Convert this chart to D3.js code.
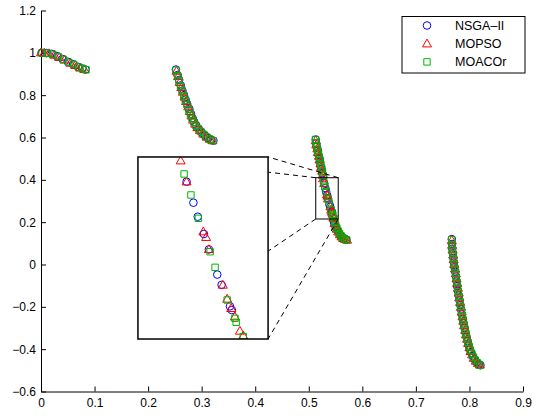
<!DOCTYPE html>
<html>
<head>
<meta charset="utf-8">
<script src="https://cdn.jsdelivr.net/npm/d3@7"></script>
<style>
  html, body { margin: 0; padding: 0; background: #fff; }
  svg { display: block; font-family: "Liberation Sans", Arial, Helvetica, sans-serif; }
</style>
</head>
<body>
<svg id="chart" width="537" height="418"></svg>
<script>
// Pareto front approximations (f1, f2) found by each optimiser
const nsga2Points = [
  [0.001,1.000],[0.010,0.999],[0.020,0.995],[0.030,0.984],[0.040,0.971],[0.050,0.958],[0.060,0.946],[0.069,0.934],[0.077,0.926],[0.083,0.921],
  [0.252,0.921],[0.255,0.895],[0.258,0.872],[0.261,0.846],[0.264,0.822],[0.267,0.800],[0.270,0.779],[0.273,0.758],[0.277,0.735],[0.280,0.712],
  [0.283,0.692],[0.286,0.674],[0.290,0.656],[0.295,0.638],[0.300,0.624],[0.306,0.610],[0.312,0.597],[0.318,0.589],[0.322,0.585],
  [0.513,0.590],[0.514,0.572],[0.515,0.556],[0.517,0.538],[0.518,0.520],[0.520,0.502],[0.521,0.485],[0.522,0.468],[0.524,0.450],[0.525,0.432],
  [0.527,0.418],[0.5287,0.3835],[0.5309,0.361],[0.5323,0.346],[0.5343,0.3275],[0.5359,0.311],[0.5386,0.284],[0.5400,0.273],[0.5427,0.250],
  [0.5433,0.246],[0.5468,0.203],[0.5485,0.189],[0.5505,0.177],[0.553,0.163],[0.556,0.150],[0.5585,0.139],[0.5615,0.130],[0.565,0.122],[0.570,0.117],
  [0.767,0.120],[0.7675,0.097],[0.768,0.075],[0.769,0.053],[0.770,0.031],[0.771,0.009],[0.772,-0.013],[0.7735,-0.035],[0.775,-0.057],[0.776,-0.080],
  [0.777,-0.102],[0.7785,-0.125],[0.780,-0.147],[0.7815,-0.170],[0.783,-0.192],[0.7845,-0.213],[0.786,-0.236],[0.7875,-0.257],[0.789,-0.278],
  [0.791,-0.300],[0.7925,-0.321],[0.7945,-0.342],[0.7965,-0.362],[0.7985,-0.382],[0.801,-0.401],[0.8035,-0.418],[0.8065,-0.434],[0.810,-0.449],
  [0.814,-0.462],[0.818,-0.472],[0.8205,-0.476]
];

const mopsoPoints = [
  [0.000,1.001],[0.006,1.000],[0.015,0.997],[0.025,0.990],[0.034,0.979],[0.044,0.967],[0.055,0.952],[0.064,0.941],[0.073,0.929],[0.081,0.922],
  [0.253,0.914],[0.256,0.889],[0.259,0.861],[0.262,0.837],[0.265,0.815],[0.268,0.792],[0.271,0.771],[0.275,0.746],[0.278,0.724],[0.281,0.703],
  [0.284,0.683],[0.288,0.664],[0.292,0.648],[0.297,0.633],[0.303,0.617],[0.309,0.603],[0.315,0.593],[0.320,0.586],
  [0.513,0.586],[0.514,0.566],[0.516,0.547],[0.517,0.530],[0.519,0.512],[0.520,0.495],[0.522,0.476],[0.523,0.460],[0.525,0.442],[0.526,0.424],
  [0.5268,0.406],[0.5287,0.3835],[0.5341,0.330],[0.535,0.324],[0.5359,0.311],[0.5404,0.2729],[0.5418,0.2579],[0.5431,0.2479],[0.5443,0.2389],
  [0.5459,0.2236],[0.547,0.2186],[0.548,0.195],[0.5505,0.180],[0.552,0.168],[0.555,0.155],[0.558,0.142],[0.561,0.132],[0.564,0.124],[0.568,0.119],[0.5715,0.116],
  [0.767,0.114],[0.7675,0.092],[0.7685,0.070],[0.7695,0.046],[0.7705,0.024],[0.7715,0.002],[0.773,-0.020],[0.7745,-0.043],[0.776,-0.066],[0.777,-0.088],
  [0.7785,-0.111],[0.780,-0.134],[0.781,-0.156],[0.7825,-0.178],[0.784,-0.201],[0.7855,-0.224],[0.787,-0.246],[0.7885,-0.267],[0.790,-0.288],
  [0.792,-0.310],[0.7935,-0.331],[0.7955,-0.352],[0.7975,-0.372],[0.800,-0.392],[0.802,-0.410],[0.805,-0.426],[0.808,-0.442],[0.812,-0.456],
  [0.816,-0.467],[0.8195,-0.474]
];

const moacorPoints = [
  [0.002,0.999],[0.012,0.998],[0.022,0.993],[0.032,0.982],[0.042,0.969],[0.052,0.955],[0.061,0.945],[0.070,0.933],[0.078,0.925],[0.084,0.920],
  [0.252,0.918],[0.255,0.892],[0.2575,0.868],[0.2605,0.843],[0.2635,0.820],[0.2665,0.797],[0.2695,0.776],[0.2725,0.755],[0.276,0.732],[0.279,0.710],
  [0.282,0.690],[0.2855,0.672],[0.289,0.657],[0.294,0.641],[0.2985,0.628],[0.304,0.614],[0.3095,0.602],[0.3155,0.592],[0.321,0.585],
  [0.5125,0.591],[0.5135,0.575],[0.515,0.558],[0.5165,0.541],[0.518,0.524],[0.5195,0.507],[0.521,0.490],[0.5225,0.472],[0.524,0.455],[0.5255,0.437],
  [0.5265,0.420],[0.5279,0.3918],[0.5301,0.3693],[0.5325,0.3443],[0.5363,0.3085],[0.5379,0.2918],[0.5418,0.2568],[0.5443,0.2372],[0.5447,0.2329],
  [0.547,0.2175],[0.5485,0.198],[0.5505,0.184],[0.5525,0.171],[0.555,0.158],[0.5575,0.146],[0.5605,0.135],[0.5635,0.127],[0.567,0.120],[0.571,0.116],
  [0.7668,0.117],[0.7673,0.093],[0.768,0.072],[0.769,0.050],[0.770,0.028],[0.7712,0.005],[0.7725,-0.017],[0.774,-0.039],[0.7752,-0.061],[0.7765,-0.084],
  [0.778,-0.107],[0.7792,-0.129],[0.7805,-0.151],[0.782,-0.174],[0.7835,-0.197],[0.785,-0.219],[0.7865,-0.241],[0.788,-0.262],[0.7897,-0.284],
  [0.7915,-0.305],[0.7932,-0.326],[0.795,-0.347],[0.797,-0.367],[0.7993,-0.387],[0.8018,-0.405],[0.8045,-0.422],[0.8075,-0.438],[0.811,-0.452],
  [0.815,-0.465],[0.8195,-0.476]
];

const seriesNames = ["NSGA\u2013II", "MOPSO", "MOACOr"];

const xTicks = [0, 0.1, 0.2, 0.3, 0.4, 0.5, 0.6, 0.7, 0.8, 0.9];
const xTickLabels = ["0", "0.1", "0.2", "0.3", "0.4", "0.5", "0.6", "0.7", "0.8", "0.9"];
const yTicks = [-0.6, -0.4, -0.2, 0, 0.2, 0.4, 0.6, 0.8, 1, 1.2];
const yTickLabels = ["\u22120.6", "\u22120.4", "\u22120.2", "0", "0.2", "0.4", "0.6", "0.8", "1", "1.2"];

// magnified window (data units) and where its enlarged copy sits (data units of the main axes)
const zoomXDomain = [0.513, 0.555];
const zoomYDomain = [0.215, 0.41];
const insetXSpan = [0.181, 0.424];
const insetYSpan = [-0.352, 0.508];

// ---------------------------------------------------------------
const svg = d3.select("#chart");
const x = d3.scaleLinear().domain([0, 0.9]).range([41, 523]);
const y = d3.scaleLinear().domain([-0.6, 1.2]).range([391.5, 10.5]);

const styles = [
  { data: nsga2Points,  shape: "circle",   color: "#0000ff" },
  { data: mopsoPoints,  shape: "triangle", color: "#ff0000" },
  { data: moacorPoints, shape: "square",   color: "#00b400" }
];

function markerPath(shape) {
  if (shape === "circle") {
    const r = 3.8;
    return `M${-r},0A${r},${r} 0 1,0 ${r},0A${r},${r} 0 1,0 ${-r},0Z`;
  }
  if (shape === "triangle") {
    return "M0,-4.6L4.5,3.2L-4.5,3.2Z";
  }
  const h = 3.2;
  return `M${-h},${-h}H${h}V${h}H${-h}Z`;
}

function drawSeries(g, sx, sy) {
  styles.forEach(s => {
    g.append("g")
      .selectAll("path")
      .data(s.data)
      .join("path")
      .attr("d", markerPath(s.shape))
      .attr("transform", d => `translate(${sx(d[0])},${sy(d[1])})`)
      .attr("fill", "none")
      .attr("stroke", s.color)
      .attr("stroke-width", 1);
  });
}

// axes (ticks point inward)
const xAxis = d3.axisBottom(x)
  .tickValues(xTicks)
  .tickFormat((d, i) => xTickLabels[i])
  .tickSizeInner(-5).tickSizeOuter(0).tickPadding(7);
const yAxis = d3.axisLeft(y)
  .tickValues(yTicks)
  .tickFormat((d, i) => yTickLabels[i])
  .tickSizeInner(-5).tickSizeOuter(0).tickPadding(5);

const gx = svg.append("g").attr("transform", `translate(0,${y(-0.6)})`).call(xAxis);
const gy = svg.append("g").attr("transform", `translate(${x(0)},0)`).call(yAxis);
[gx, gy].forEach(g => {
  g.selectAll("text").attr("font-size", 12).attr("font-family", "Liberation Sans, Arial, sans-serif").attr("fill", "#000");
  g.selectAll("line,path").attr("stroke", "#000");
});

// main scatter
drawSeries(svg.append("g"), x, y);

// magnified window outline
const zx0 = x(zoomXDomain[0]), zx1 = x(zoomXDomain[1]);
const zy0 = y(zoomYDomain[1]), zy1 = y(zoomYDomain[0]);
const ix0 = x(insetXSpan[0]), ix1 = x(insetXSpan[1]);
const iy0 = y(insetYSpan[1]), iy1 = y(insetYSpan[0]);

// connector lines between matching corners
const corners = [
  [[zx0, zy0], [ix0, iy0]],
  [[zx1, zy0], [ix1, iy0]],
  [[zx0, zy1], [ix0, iy1]],
  [[zx1, zy1], [ix1, iy1]]
];
svg.append("g").selectAll("line").data(corners).join("line")
  .attr("x1", d => d[0][0]).attr("y1", d => d[0][1])
  .attr("x2", d => d[1][0]).attr("y2", d => d[1][1])
  .attr("stroke", "#000").attr("stroke-width", 1).attr("stroke-dasharray", "5,4");

svg.append("rect")
  .attr("x", zx0).attr("y", zy0).attr("width", zx1 - zx0).attr("height", zy1 - zy0)
  .attr("fill", "none").attr("stroke", "#000").attr("stroke-width", 1);

// enlarged copy
const ix = d3.scaleLinear().domain(zoomXDomain).range([ix0, ix1]);
const iy = d3.scaleLinear().domain(zoomYDomain).range([iy1, iy0]);
svg.append("clipPath").attr("id", "insetClip")
  .append("rect").attr("x", ix0).attr("y", iy0).attr("width", ix1 - ix0).attr("height", iy1 - iy0);
svg.append("rect")
  .attr("x", ix0).attr("y", iy0).attr("width", ix1 - ix0).attr("height", iy1 - iy0)
  .attr("fill", "#fff");
drawSeries(svg.append("g").attr("clip-path", "url(#insetClip)"), ix, iy);
svg.append("rect")
  .attr("x", ix0).attr("y", iy0).attr("width", ix1 - ix0).attr("height", iy1 - iy0)
  .attr("fill", "none").attr("stroke", "#000").attr("stroke-width", 1.5);

// legend
const lg = svg.append("g");
lg.append("rect").attr("x", 402).attr("y", 16.5).attr("width", 123).attr("height", 56.5)
  .attr("fill", "#fff").attr("stroke", "#000").attr("stroke-width", 1);
styles.forEach((s, i) => {
  const cy = 25.5 + i * 18.2;
  lg.append("path").attr("d", markerPath(s.shape))
    .attr("transform", `translate(427,${cy})`)
    .attr("fill", "none").attr("stroke", s.color).attr("stroke-width", 1);
  lg.append("text").attr("x", 455).attr("y", cy).attr("dy", "0.36em")
    .attr("font-size", 12.5).attr("fill", "#000").text(seriesNames[i]);
});
</script>
</body>
</html>
